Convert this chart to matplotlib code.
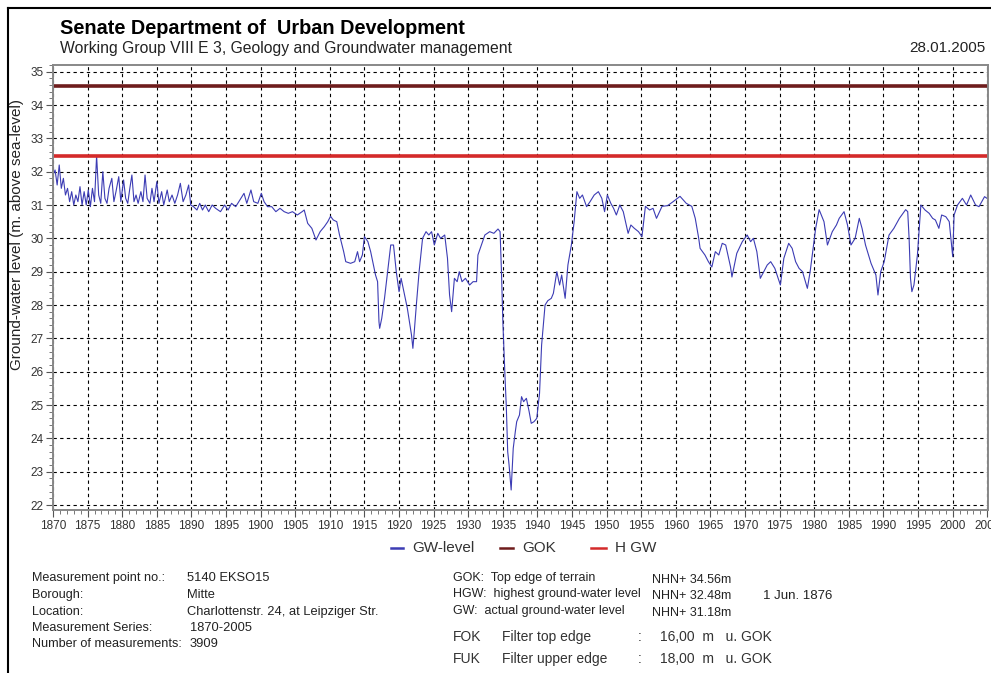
import numpy as np
import matplotlib.pyplot as plt
from matplotlib.lines import Line2D
from matplotlib.ticker import MultipleLocator

plt.rcParams['font.family'] = ['Liberation Sans', 'DejaVu Sans']

# GW-level readings (year, m above sea level)
years = [1870.0, 1870.3, 1870.6, 1870.9, 1871.2, 1871.5, 1871.8, 1872.1, 1872.4, 1872.7,
         1873.0, 1873.3, 1873.6, 1873.9, 1874.2, 1874.5, 1874.8, 1875.1, 1875.4, 1875.7,
         1876.0, 1876.3, 1876.6, 1876.9, 1877.2, 1877.5, 1877.8, 1878.1, 1878.5, 1878.8,
         1879.1, 1879.5, 1879.8, 1880.2, 1880.5, 1880.8, 1881.1, 1881.4, 1881.7, 1882.0,
         1882.3, 1882.7, 1883.0, 1883.3, 1883.6, 1884.0, 1884.3, 1884.6, 1885.0, 1885.3,
         1885.7, 1886.0, 1886.5, 1886.8, 1887.2, 1887.6, 1888.0, 1888.4, 1888.8, 1889.2,
         1889.6, 1889.9, 1890.3, 1890.8, 1891.2, 1891.6, 1892.0, 1892.5, 1893.0, 1893.5,
         1894.2, 1894.8, 1895.3, 1895.8, 1896.4, 1897.0, 1897.6, 1898.0, 1898.6, 1899.0,
         1899.6, 1900.1, 1900.5, 1901.0, 1901.6, 1902.2, 1902.8, 1903.4, 1904.0, 1904.6,
         1905.3, 1906.0, 1906.3, 1906.8, 1907.4, 1908.0, 1908.6, 1909.2, 1909.7, 1910.1,
         1910.5, 1911.0, 1911.4, 1912.0, 1912.3, 1913.0, 1913.6, 1914.0, 1914.3, 1914.7,
         1915.0, 1915.5, 1915.9, 1916.2, 1916.6, 1916.9, 1917.1, 1917.2, 1917.5, 1917.9,
         1918.4, 1918.8, 1919.2, 1919.6, 1920.0, 1920.3, 1920.8, 1921.2, 1921.5, 1921.8,
         1922.0, 1922.2, 1922.5, 1922.9, 1923.4, 1923.9, 1924.3, 1924.7, 1925.1, 1925.6,
         1926.0, 1926.6, 1927.0, 1927.3, 1927.6, 1928.0, 1928.4, 1928.7, 1929.1, 1929.6,
         1930.2, 1930.7, 1931.2, 1931.4, 1931.9, 1932.4, 1933.1, 1933.7, 1934.3, 1934.6,
         1934.8, 1935.0, 1935.3, 1935.5, 1935.7, 1935.9, 1936.2, 1936.5, 1936.8, 1937.0,
         1937.4, 1937.7, 1938.0, 1938.4, 1938.8, 1939.1, 1939.5, 1939.9, 1940.3, 1940.6,
         1941.1, 1941.5, 1942.0, 1942.3, 1942.8, 1943.2, 1943.5, 1944.0, 1944.4, 1944.9,
         1945.3, 1945.7, 1946.1, 1946.5, 1947.1, 1947.6, 1948.2, 1948.8, 1949.3, 1949.7,
         1950.1, 1950.6, 1951.0, 1951.4, 1951.9, 1952.4, 1953.1, 1953.5, 1954.0, 1954.6,
         1955.1, 1955.6, 1956.2, 1956.7, 1957.2, 1958.0, 1958.8, 1959.6, 1960.6, 1961.5,
         1962.3, 1962.8, 1963.3, 1963.5, 1964.2, 1964.7, 1965.2, 1965.7, 1966.2, 1966.7,
         1967.2, 1967.9, 1968.1, 1968.8, 1969.6, 1970.3, 1970.8, 1971.2, 1971.7, 1972.2,
         1972.7, 1973.2, 1973.7, 1974.3, 1975.1, 1975.6, 1976.3, 1976.8, 1977.3, 1977.8,
         1978.3, 1979.0, 1979.4, 1979.9, 1980.2, 1980.7, 1981.4, 1981.9, 1982.6, 1983.2,
         1983.6, 1984.3, 1984.8, 1985.3, 1985.9, 1986.5, 1986.9, 1987.4, 1988.2, 1988.9,
         1989.2, 1989.6, 1990.1, 1990.8, 1991.5, 1992.3, 1993.2, 1993.5, 1993.7, 1993.9,
         1994.1, 1994.4, 1994.9, 1995.4, 1996.0, 1996.6, 1997.1, 1997.5, 1998.0, 1998.4,
         1999.0, 1999.5, 2000.0, 2000.2, 2000.7, 2001.4, 2002.0, 2002.6, 2003.3, 2003.8,
         2004.6, 2005.1]
gw_level = [31.9, 32.05, 31.6, 32.2, 31.5, 31.8, 31.3, 31.5, 31.1, 31.4,
            31.0, 31.3, 31.1, 31.55, 31.0, 31.4, 31.0, 31.45, 30.95, 31.5,
            31.1, 32.48, 31.3, 31.05, 32.0, 31.2, 31.05, 31.5, 31.8, 31.1,
            31.4, 31.85, 31.1, 31.75, 31.2, 31.05, 31.5, 31.9, 31.1, 31.3,
            31.05, 31.4, 31.1, 31.9, 31.2, 31.05, 31.5, 31.1, 31.7, 31.05,
            31.4, 31.0, 31.45, 31.1, 31.3, 31.05, 31.3, 31.65, 31.1, 31.3,
            31.6, 31.0, 30.95, 30.85, 31.05, 30.85, 31.0, 30.8, 31.0, 30.9,
            30.8, 31.0, 30.85, 31.05, 30.95, 31.15, 31.35, 31.05, 31.45, 31.1,
            31.05, 31.35, 31.1, 30.95, 30.95, 30.8, 30.9, 30.8, 30.75, 30.8,
            30.7, 30.8, 30.85, 30.45, 30.3, 29.95, 30.2, 30.35, 30.5, 30.66,
            30.55, 30.5, 30.1, 29.6, 29.3, 29.25, 29.3, 29.6, 29.3, 29.5,
            30.05, 29.9, 29.6, 29.3, 28.9, 28.7, 27.5, 27.3, 27.6, 28.2,
            29.1, 29.8, 29.8, 29.0, 28.4, 28.8, 28.3, 27.9, 27.5, 27.1,
            26.7, 27.2, 28.0, 29.0, 30.0, 30.2, 30.1, 30.2, 29.8, 30.15,
            30.0, 30.1, 29.4, 28.3, 27.8, 28.8, 28.7, 29.0, 28.7, 28.8,
            28.6, 28.7, 28.7, 29.5, 29.8, 30.1, 30.2, 30.15, 30.28, 30.2,
            29.0, 27.5, 25.9, 24.95, 23.6, 23.2, 22.45, 23.7, 24.2, 24.5,
            24.7, 25.25, 25.1, 25.2, 24.8, 24.45, 24.5, 24.6, 25.35, 26.8,
            28.0, 28.13, 28.2, 28.35, 29.0, 28.6, 28.9, 28.2, 29.2, 29.8,
            30.5, 31.4, 31.2, 31.3, 30.95, 31.1, 31.3, 31.4, 31.2, 30.8,
            31.3, 31.05, 30.9, 30.7, 31.0, 30.8, 30.15, 30.4, 30.3, 30.2,
            30.05, 30.96, 30.85, 30.9, 30.6, 30.96, 30.98, 31.1, 31.26, 31.05,
            30.96, 30.6, 30.0, 29.7, 29.5, 29.3, 29.14, 29.6, 29.5, 29.85,
            29.8, 29.14, 28.84, 29.55, 29.9, 30.1, 29.9, 30.0, 29.6, 28.8,
            29.0, 29.2, 29.3, 29.1, 28.6, 29.4, 29.85, 29.7, 29.3, 29.1,
            29.0, 28.5, 29.0, 29.8, 30.3, 30.86, 30.5, 29.8, 30.2, 30.4,
            30.6, 30.8, 30.4, 29.8, 30.0, 30.6, 30.3, 29.8, 29.25, 28.9,
            28.3, 29.0, 29.3, 30.1, 30.3, 30.6, 30.86, 30.8, 30.0, 28.8,
            28.4, 28.6, 29.5, 31.0, 30.85, 30.75, 30.6, 30.55, 30.3, 30.7,
            30.65, 30.5, 29.45, 30.7, 31.0, 31.2, 31.0, 31.3, 31.0, 30.95,
            31.25, 31.18]
gok = 34.56
hgw = 32.48

gw_color = '#3c3cb4'
gok_color = '#6e1c1c'
hgw_color = '#d42a2a'

fig = plt.figure(figsize=(9.91, 6.73), dpi=100)
ax = fig.add_axes([53 / 991, 1 - 510 / 673, 935 / 991, 445 / 673])

ax.plot(years, gw_level, color=gw_color, lw=0.8)
ax.axhline(gok, color=gok_color, lw=2.6)
ax.axhline(hgw, color=hgw_color, lw=2.6)

ax.set_xlim(1870, 2005.1)
ax.set_ylim(21.85, 35.2)
ax.xaxis.set_major_locator(MultipleLocator(5))
ax.xaxis.set_minor_locator(MultipleLocator(1))
ax.yaxis.set_major_locator(MultipleLocator(1))
ax.yaxis.set_minor_locator(MultipleLocator(0.2))
ax.grid(True, which='major', color='black', linestyle=(0, (3, 3)), lw=0.8)
ax.set_axisbelow(True)
ax.tick_params(which='major', direction='out', length=5, width=0.8,
               labelsize=8.5, labelcolor='#333333', color='#555555', pad=2)
ax.tick_params(which='minor', direction='out', length=3, width=0.7, color='#777777')
for s in ax.spines.values():
    s.set_color('#888888')
    s.set_linewidth(1.4)

fig.text(17 / 991, 1 - 234 / 673, 'Ground-water level (m. above sea-level)',
         rotation=90, ha='center', va='center', fontsize=11, color='#222222')

# header
fig.text(60 / 991, 1 - 28 / 673, 'Senate Department of  Urban Development',
         fontsize=14.3, fontweight='bold', va='center')
fig.text(60 / 991, 1 - 48 / 673,
         'Working Group VIII E 3, Geology and Groundwater management',
         fontsize=11.3, va='center', color='#222222')
fig.text(985 / 991, 1 - 48 / 673, '28.01.2005', fontsize=11, va='center',
         ha='right', color='#222222')

# legend row
leg_y = 1 - 548 / 673
for x0, x1, col, label in [(391, 403, gw_color, 'GW-level'),
                           (500, 513, gok_color, 'GOK'),
                           (591, 606, hgw_color, 'H GW')]:
    fig.add_artist(Line2D([x0 / 991, x1 / 991], [leg_y, leg_y], color=col,
                          lw=1.8, transform=fig.transFigure))
    fig.text((x1 + 9) / 991, leg_y, label, fontsize=11, va='center', color='#333333')

# info block
left_keys = ['Measurement point no.:', 'Borough:', 'Location:',
             'Measurement Series:', 'Number of measurements:']
left_vals = ['5140 EKSO15', 'Mitte', 'Charlottenstr. 24, at Leipziger Str.',
             '1870-2005', '3909']
rows_y = [578, 595, 612, 628, 644]
vals_x = [187, 187, 187, 190, 190]
for k, v, yy, vx in zip(left_keys, left_vals, rows_y, vals_x):
    fig.text(32 / 991, 1 - yy / 673, k, fontsize=9.1, va='center', color='#222222')
    fig.text(vx / 991, 1 - yy / 673, v, fontsize=9.3, va='center', color='#222222')

right_keys = ['GOK:  Top edge of terrain', 'HGW:  highest ground-water level',
              'GW:  actual ground-water level']
right_vals = ['NHN+ 34.56m', 'NHN+ 32.48m', 'NHN+ 31.18m']
for k, v, yy in zip(right_keys, right_vals, [578, 594, 611]):
    fig.text(453 / 991, 1 - yy / 673, k, fontsize=9, va='center', color='#222222')
    fig.text(652 / 991, 1 - (yy + 2) / 673, v, fontsize=9, va='center', color='#222222')
fig.text(763 / 991, 1 - 596 / 673, '1 Jun. 1876', fontsize=9.5, va='center', color='#222222')

for code, desc, val, yy in [('FOK', 'Filter top edge', '16,00  m   u. GOK', 637),
                            ('FUK', 'Filter upper edge', '18,00  m   u. GOK', 659)]:
    fig.text(453 / 991, 1 - yy / 673, code, fontsize=10, va='center', color='#333333')
    fig.text(502 / 991, 1 - yy / 673, desc, fontsize=10, va='center', color='#333333')
    fig.text(638 / 991, 1 - yy / 673, ':', fontsize=10, va='center', color='#333333')
    fig.text(660 / 991, 1 - yy / 673, val, fontsize=10, va='center', color='#333333')

# outer frame
fig.add_artist(Line2D([8 / 991, 8 / 991], [0, 1 - 8 / 673], color='black', lw=1.5,
                      transform=fig.transFigure))
fig.add_artist(Line2D([8 / 991, 1], [1 - 8 / 673, 1 - 8 / 673], color='black', lw=1.5,
                      transform=fig.transFigure))

fig.savefig('out.png', dpi=100)
